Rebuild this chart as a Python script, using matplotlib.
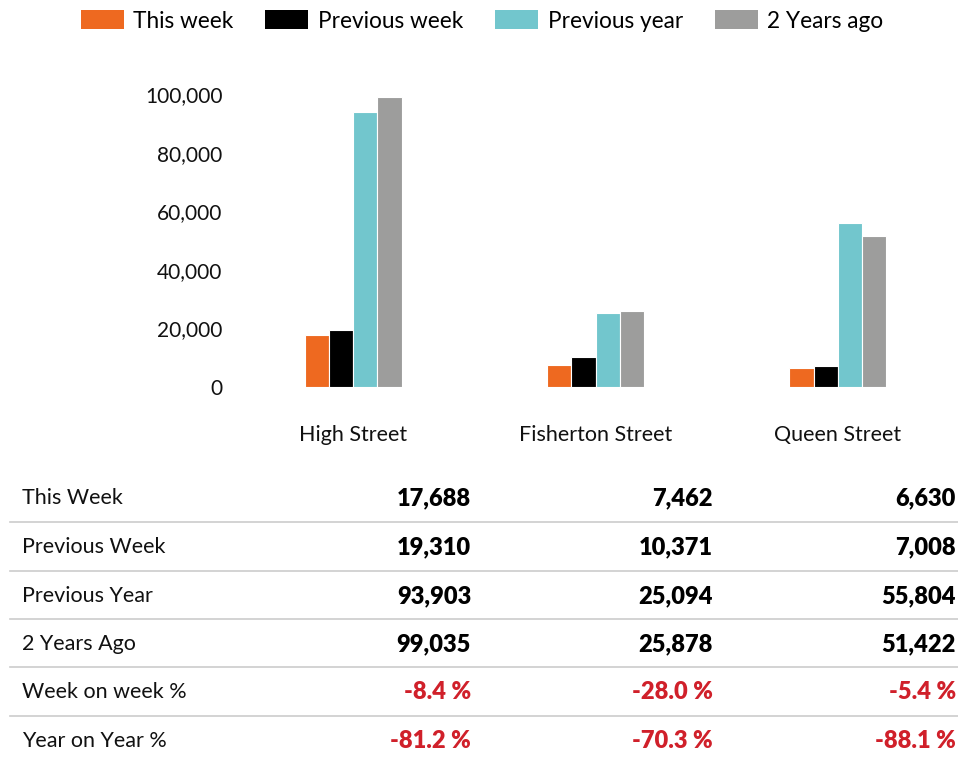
import matplotlib
matplotlib.use("Agg")
import matplotlib.pyplot as plt
from matplotlib.patches import Patch
from matplotlib.ticker import FuncFormatter

# ---- data ----
streets = ["High Street", "Fisherton Street", "Queen Street"]
series_names = ["This week", "Previous week", "Previous year", "2 Years ago"]
this_week = [17688, 7462, 6630]
previous_week = [19310, 10371, 7008]
previous_year = [93903, 25094, 55804]
two_years_ago = [99035, 25878, 51422]
week_on_week = [-8.4, -28.0, -5.4]
year_on_year = [-81.2, -70.3, -88.1]
row_labels = ["This Week", "Previous Week", "Previous Year", "2 Years Ago",
              "Week on week %", "Year on Year %"]
y_ticks = [0, 20000, 40000, 60000, 80000, 100000]

colors = ["#EE6920", "#000000", "#72C6CD", "#9D9D9C"]
red = "#D0202A"

W, H = 958, 761
fig = plt.figure(figsize=(W / 100, H / 100), dpi=100)
plt.rcParams['font.family'] = ['Lato', 'DejaVu Sans']

def fx(px):
    return px / W

def fy(py):
    return 1 - py / H

# bar axes
ax_left, ax_right = 232, 959
ax_bottom = 387
px_per_unit = 2.93 / 1000
ymax = 105000
ax_top = ax_bottom - ymax * px_per_unit
ax = fig.add_axes([fx(ax_left), fy(ax_bottom), fx(ax_right - ax_left), (ax_bottom - ax_top) / H])
series = [this_week, previous_week, previous_year, two_years_ago]
bw = 0.1
for i, (vals, c) in enumerate(zip(series, colors)):
    xs = [g + (i - 1.5) * bw for g in range(len(streets))]
    ax.bar(xs, vals, width=bw, color=c, edgecolor="white", linewidth=0.8)
ax.set_xlim(-0.5, 2.5)
ax.set_ylim(0, ymax)
ax.set_yticks(y_ticks)
ax.yaxis.set_major_formatter(FuncFormatter(lambda v, p: f"{int(v):,}"))
ax.set_xticks(range(len(streets)))
ax.set_xticklabels(streets)
ax.tick_params(axis="x", length=0, pad=27, labelsize=15.5, colors="#111111")
ax.tick_params(axis="y", length=0, pad=7, labelsize=15, colors="#111111")
for s in ax.spines.values():
    s.set_visible(False)

# legend
handles = [Patch(facecolor=c, edgecolor="none", label=n) for c, n in zip(colors, series_names)]
fig.legend(handles=handles, loc="center", bbox_to_anchor=(fx(482), fy(21)), ncol=4,
           frameon=False, fontsize=16.3, handlelength=1.9, handleheight=0.9,
           handletextpad=0.42, columnspacing=1.4)

# table
row_y = [498, 547, 596, 644, 692, 741]
line_y = [522, 571, 619, 667, 716]
col_x = [471, 713, 956]
table_rows = [this_week, previous_week, previous_year, two_years_ago, week_on_week, year_on_year]
for r, (lab, yy, vals) in enumerate(zip(row_labels, row_y, table_rows)):
    fig.text(fx(22), fy(yy), lab, ha="left", va="center", fontsize=15.5, color="#111111")
    for v, xx in zip(vals, col_x):
        if r < 4:
            txt, col = f"{v:,}", "#000000"
        else:
            txt, col = f"{v:.1f} %", red
        fig.text(fx(xx), fy(yy), txt, ha="right", va="center", fontsize=17,
                 fontweight="heavy", color=col)
for ly in line_y:
    fig.add_artist(plt.Line2D([fx(10), fx(958)], [fy(ly), fy(ly)], color="#CCCCCC",
                              linewidth=1.2, transform=fig.transFigure))

fig.savefig("out.png", dpi=100)
